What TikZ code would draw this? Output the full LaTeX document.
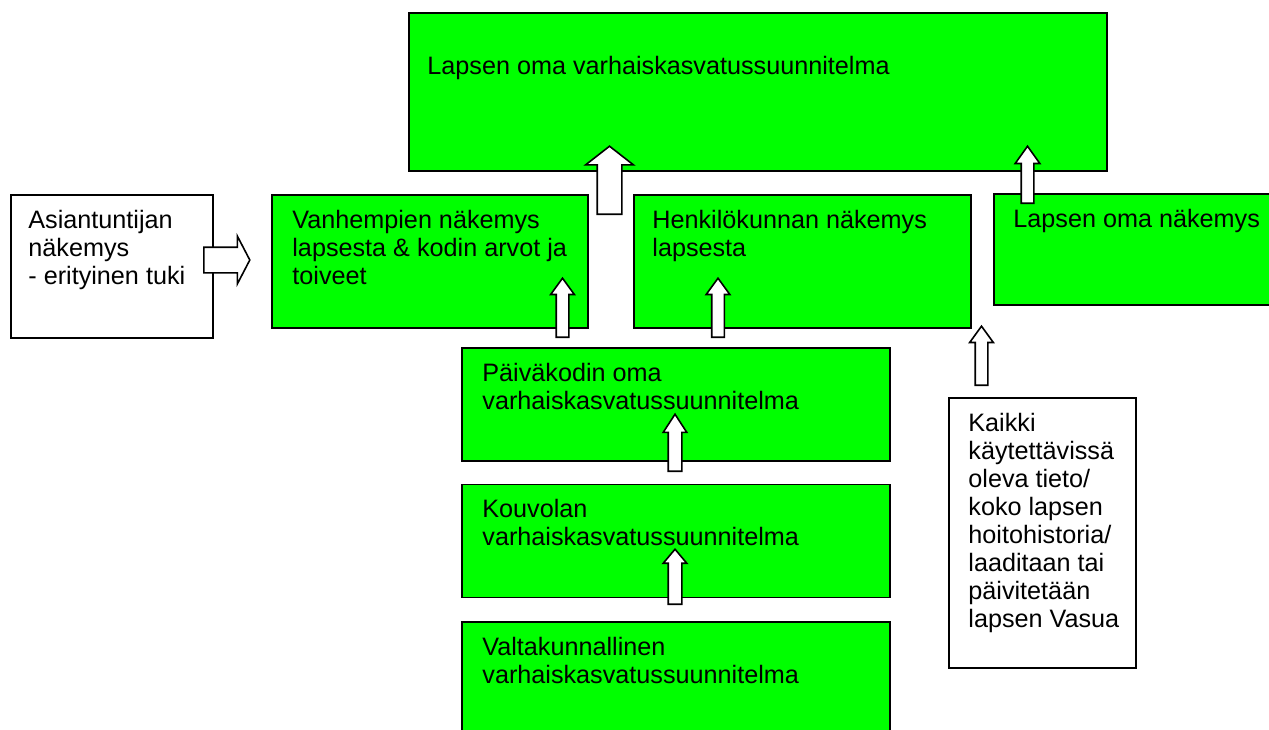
\documentclass[tikz,border=0pt]{standalone}
\usepackage{fontspec}
\setmainfont{Liberation Sans}
\usepackage{tikz}
\usetikzlibrary{shapes.arrows}
\usetikzlibrary{positioning}
\definecolor{vasugreen}{RGB}{0 255 0}
\tikzstyle{greenbox} = [rectangle, anchor=north west, inner sep=0pt, line width=0.8pt, draw=black, fill=vasugreen]
\tikzstyle{whitebox} = [rectangle, anchor=north west, inner sep=0pt, line width=0.8pt, draw=black, fill=white]
\tikzstyle{boxtext} = [inner sep=0pt, align=left, font=\fontsize{12.6pt}{14pt}\selectfont]
\tikzstyle{blockarrow} = [single arrow, single arrow head indent=0pt, anchor=tail, line width=0.8pt, draw=black, fill=white]
\begin{document}
\begin{tikzpicture}[x=0.5pt, y=-0.5pt]
        \useasboundingbox (0,0) rectangle (1269,729);
        \node (vasu) [greenbox, minimum width=349pt, minimum height=79pt] at (408,12) {};
        \node (asiant) [whitebox, minimum width=101pt, minimum height=71.5pt] at (10,194) {};
        \node (vanh) [greenbox, minimum width=158pt, minimum height=66.5pt] at (271,194) {};
        \node (henk) [greenbox, minimum width=168.5pt, minimum height=66.5pt] at (633,194) {};
        \node (lapsnak) [greenbox, minimum width=145pt, minimum height=55.5pt] at (993,193) {};
        \node (paiv) [greenbox, minimum width=214pt, minimum height=56.5pt] at (461,347) {};
        \node (kouv) [greenbox, minimum width=214pt, minimum height=56.5pt, below=11pt of paiv] {};
        \node (valt) [greenbox, minimum width=214pt, minimum height=62pt, below=11.5pt of kouv] {};
        \node (kaikki) [whitebox, minimum width=93.5pt, minimum height=135pt] at (948,397) {};
        \node (vasutxt) [boxtext, below right=22pt and 9.5pt of vasu.north west] {Lapsen oma varhaiskasvatussuunnitelma};
        \node (asianttxt) [boxtext, below right=7.75pt and 9pt of asiant.north west] {Asiantuntijan\\n\"akemys\\ - erityinen tuki};
        \node (vanhtxt) [boxtext, below right=7.75pt and 10.5pt of vanh.north west] {Vanhempien n\"akemys\\lapsesta \& kodin arvot ja\\toiveet};
        \node (henktxt) [boxtext, below right=7.75pt and 9.5pt of henk.north west] {Henkil\"okunnan n\"akemys\\lapsesta};
        \node (lapsnaktxt) [boxtext, below right=8pt and 10pt of lapsnak.north west] {Lapsen oma n\"akemys};
        \node (paivtxt) [boxtext, below right=7.75pt and 10.5pt of paiv.north west] {P\"aiv\"akodin oma\\varhaiskasvatussuunnitelma};
        \node (kouvtxt) [boxtext, below right=7.75pt and 10.5pt of kouv.north west] {Kouvolan\\varhaiskasvatussuunnitelma};
        \node (valttxt) [boxtext, below right=8pt and 10.5pt of valt.north west] {Valtakunnallinen\\varhaiskasvatussuunnitelma};
        \node (kaikkitxt) [boxtext, below right=7.75pt and 10pt of kaikki.north west] {Kaikki\\k\"aytett\"aviss\"a\\oleva tieto/\\koko lapsen\\hoitohistoria/\\laaditaan tai\\p\"aivitet\"a\"an\\lapsen Vasua};
        \node (arrasiant) [blockarrow, minimum height=23pt, minimum width=23pt, inner sep=6pt, single arrow head extend=5.5pt, single arrow tip angle=125] at (203,260) {};
        \node (arrvanh) [blockarrow, rotate=90, minimum height=34pt, minimum width=23pt, inner sep=5.75pt, single arrow head extend=5.75pt, single arrow tip angle=104] at (609.5,215) {};
        \node (arrpaiv1) [blockarrow, rotate=90, minimum height=29.5pt, minimum width=11pt, inner sep=2.75pt, single arrow head extend=2.75pt, single arrow tip angle=72] at (562.5,338) {};
        \node (arrpaiv2) [blockarrow, rotate=90, minimum height=29.5pt, minimum width=11pt, inner sep=2.75pt, single arrow head extend=2.75pt, single arrow tip angle=72] at (718,338) {};
        \node (arrlapsnak) [blockarrow, rotate=90, minimum height=28.5pt, minimum width=11.5pt, inner sep=2.75pt, single arrow head extend=3pt, single arrow tip angle=71] at (1027.5,204) {};
        \node (arrkaikki) [blockarrow, rotate=90, minimum height=29.5pt, minimum width=11pt, inner sep=2.75pt, single arrow head extend=2.75pt, single arrow tip angle=72] at (981.5,386) {};
        \node (arrkouv) [blockarrow, rotate=90, minimum height=28.5pt, minimum width=11pt, inner sep=3pt, single arrow head extend=2.5pt, single arrow tip angle=66] at (675,472) {};
        \node (arrvalt) [blockarrow, rotate=90, minimum height=27.5pt, minimum width=11pt, inner sep=3pt, single arrow head extend=2.5pt, single arrow tip angle=80] at (675,605) {};
    \end{tikzpicture}
\end{document}
